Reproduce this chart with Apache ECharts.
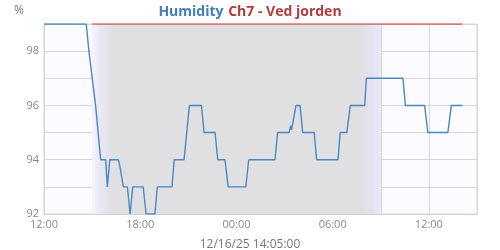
<!DOCTYPE html>
<html>
<head>
<meta charset="utf-8">
<script src="https://cdn.jsdelivr.net/npm/echarts@6/dist/echarts.min.js"></script>
<style>html,body{margin:0;padding:0;background:#fff}#c{width:500px;height:250px}</style>
</head>
<body>
<div id="c"></div>
<script>
// Humidity (blue) readings, Dec 15-16 2025 (UTC clock times used as local display)
const humTimes = [
  '2025-12-15T12:00','2025-12-15T14:38','2025-12-15T14:48','2025-12-15T14:55','2025-12-15T15:13',
  '2025-12-15T15:32','2025-12-15T15:51','2025-12-15T15:57','2025-12-15T16:06','2025-12-15T16:38',
  '2025-12-15T16:44','2025-12-15T16:57','2025-12-15T17:12','2025-12-15T17:22','2025-12-15T17:32',
  '2025-12-15T18:11','2025-12-15T18:22','2025-12-15T18:55','2025-12-15T19:04','2025-12-15T19:59',
  '2025-12-15T20:07','2025-12-15T20:44','2025-12-15T20:54','2025-12-15T21:04','2025-12-15T21:49',
  '2025-12-15T21:59','2025-12-15T22:40','2025-12-15T22:50','2025-12-15T23:17','2025-12-15T23:29',
  '2025-12-16T00:35','2025-12-16T00:46','2025-12-16T02:24','2025-12-16T02:34','2025-12-16T03:17',
  '2025-12-16T03:23','2025-12-16T03:26','2025-12-16T03:43','2025-12-16T03:58','2025-12-16T04:08',
  '2025-12-16T04:51','2025-12-16T05:00','2025-12-16T06:20','2025-12-16T06:28','2025-12-16T06:53',
  '2025-12-16T07:06','2025-12-16T08:00','2025-12-16T08:06','2025-12-16T10:23','2025-12-16T10:32',
  '2025-12-16T11:44','2025-12-16T11:56','2025-12-16T13:11','2025-12-16T13:24','2025-12-16T14:05'
];
const humValues = [
  99,99,98,98,96,
  94,94,93,94,94,
  93.75,93,93,92,93,
  93,92,92,93,93,
  94,94,95,96,96,
  95,95,94,94,93,
  93,94,94,95,95,
  95.25,95.1,96,96,95,
  95,94,94,95,95,
  96,96,97,97,96,
  96,95,95,96,96
];
// Red reference series along the top edge
const refTimes = ['2025-12-15T15:00','2025-12-16T14:05'];
const refValues = [99, 99];
// Night shading span
const nightStart = '2025-12-15T15:00';
const nightEnd = '2025-12-16T09:00';
// Axis ranges / ticks
const xMin = '2025-12-15T12:00';
const xMax = '2025-12-16T15:00';
const yMin = 92, yMax = 99;
const titleMain = 'Humidity';
const titleSub = 'Ch7 - Ved jorden';
const unitLabel = '%';
const stampLabel = '12/16/25 14:05:00';

const ms = s => Date.parse(s + ':00Z');
const H = 3600 * 1000;
const pad = n => (n < 10 ? '0' : '') + n;

const chart = echarts.init(document.getElementById('c'), null, {renderer: 'canvas'});
const font = 'Open Sans';
chart.setOption({
  animation: false,
  backgroundColor: '#ffffff',
  textStyle: {fontFamily: font},
  title: [
    {
      text: '{a|' + titleMain + '} {b|' + titleSub + '}',
      left: 'center', top: -2,
      textStyle: {
        rich: {
          a: {color: '#3f7fbf', fontWeight: 'bold', fontSize: 14, fontFamily: font},
          b: {color: '#b23b3b', fontWeight: 'bold', fontSize: 14, fontFamily: font}
        }
      }
    },
    {
      text: unitLabel, left: 9, top: 0,
      textStyle: {color: '#777', fontSize: 12, fontWeight: 'normal', fontFamily: font}
    },
    {
      text: stampLabel, left: 'center', top: 234,
      textStyle: {color: '#777', fontSize: 12, fontWeight: 'normal', fontFamily: font}
    }
  ],
  grid: {left: 44, right: 23, top: 24, bottom: 36, show: true, backgroundColor: '#fcfbff', borderColor: '#d9d9d9', borderWidth: 1},
  xAxis: {
    type: 'value',
    min: ms(xMin), max: ms(xMax), interval: 3 * H,
    axisLine: {show: true, lineStyle: {color: '#d0d0d0'}},
    axisTick: {show: false},
    splitLine: {show: true, lineStyle: {color: '#d6d6d6', width: 1}},
    axisLabel: {
      color: '#888', fontSize: 11, margin: 5, fontFamily: font,
      formatter: v => {
        const d = new Date(v);
        const h = d.getUTCHours();
        if (h % 6 !== 0) return '';
        return pad(h) + ':' + pad(d.getUTCMinutes());
      }
    }
  },
  yAxis: {
    type: 'value', min: yMin, max: yMax, interval: 1,
    axisLine: {show: true, lineStyle: {color: '#d0d0d0'}},
    axisTick: {show: false},
    splitLine: {show: true, lineStyle: {color: '#d6d6d6', width: 1}},
    axisLabel: {
      color: '#888', fontSize: 11, margin: 5, fontFamily: font,
      formatter: v => (v % 2 === 0 ? String(v) : '')
    }
  },
  series: [
    {
      type: 'line', name: 'night', data: [], silent: true,
      markArea: {
        silent: true,
        itemStyle: {
          color: new echarts.graphic.LinearGradient(0, 0, 1, 0, [
            {offset: 0, color: '#f7f4fe'},
            {offset: 0.025, color: '#ebe8f5'},
            {offset: 0.07, color: '#e0e0e2'},
            {offset: 0.925, color: '#e0e0e2'},
            {offset: 0.975, color: '#e5e2f0'},
            {offset: 1, color: '#ebe7f8'}
          ])
        },
        data: [[{xAxis: ms(nightStart)}, {xAxis: ms(nightEnd)}]]
      }
    },
    {
      type: 'line', name: 'ref', showSymbol: false, symbol: 'none',
      lineStyle: {color: '#d45a5a', width: 1.5},
      data: refTimes.map((t, i) => [ms(t), refValues[i]])
    },
    {
      type: 'line', name: titleMain, showSymbol: false, symbol: 'none',
      lineStyle: {color: '#4a88c2', width: 1.4},
      data: humTimes.map((t, i) => [ms(t), humValues[i]])
    }
  ]
});
</script>
</body>
</html>
